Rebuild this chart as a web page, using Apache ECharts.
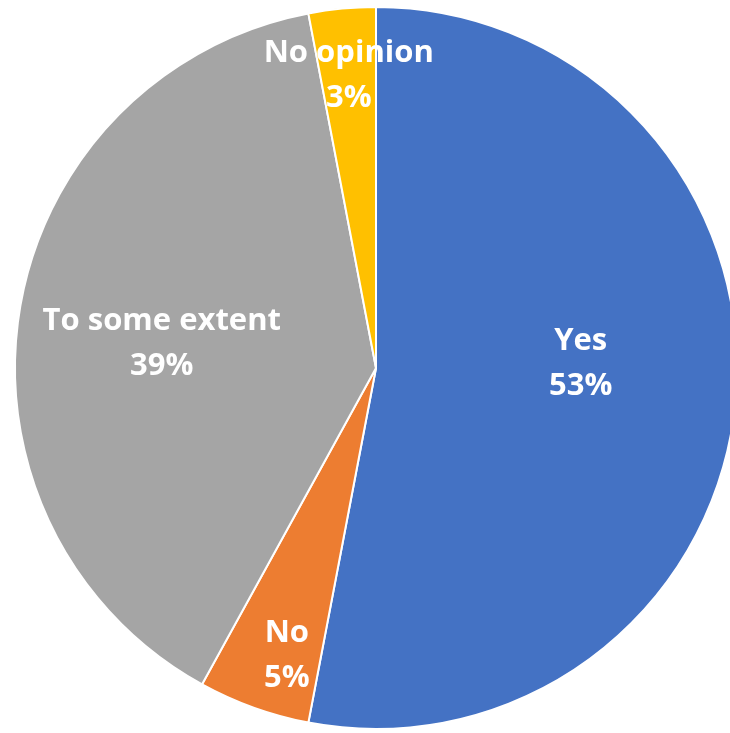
<!DOCTYPE html>
<html>
<head>
<meta charset="utf-8">
<script src="https://cdn.jsdelivr.net/npm/echarts@6/dist/echarts.min.js"></script>
<style>
html,body{margin:0;padding:0;background:#fff;}
#chart{width:730px;height:733px;}
</style>
</head>
<body>
<div id="chart"></div>
<script>
const categories = ['Yes', 'No', 'To some extent', 'No opinion'];
const values = [53, 5, 39, 3];
const colors = ['#4472C4', '#ED7D31', '#A5A5A5', '#FFC000'];

// label nudges (style), relative to the default inside position
const labelOffsets = [[22, -22], [-27, 115], [-33, 4], [-10, -110]];

const chart = echarts.init(document.getElementById('chart'), null, {renderer: 'canvas'});
chart.setOption({
  animation: false,
  backgroundColor: '#ffffff',
  series: [{
    type: 'pie',
    center: [376, 368],
    radius: 361,
    startAngle: 90,
    clockwise: true,
    avoidLabelOverlap: false,
    itemStyle: {borderColor: '#ffffff', borderWidth: 2},
    label: {
      show: true,
      position: 'inside',
      color: '#ffffff',
      fontFamily: 'Open Sans',
      fontWeight: 'bold',
      fontSize: 31,
      lineHeight: 45,
      formatter: p => p.name + '\n' + p.value + '%'
    },
    labelLine: {show: false},
    emphasis: {disabled: true},
    data: categories.map((c, i) => ({
      name: c,
      value: values[i],
      itemStyle: {color: colors[i]},
      label: {offset: labelOffsets[i]}
    }))
  }]
});
</script>
</body>
</html>
